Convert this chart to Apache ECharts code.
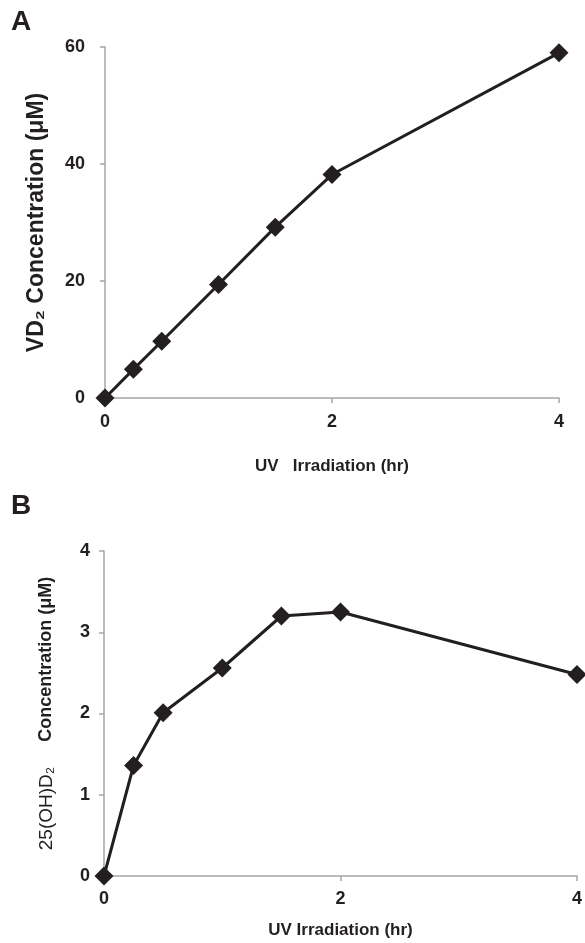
<!DOCTYPE html>
<html>
<head>
<meta charset="utf-8">
<script src="https://cdn.jsdelivr.net/npm/echarts@6/dist/echarts.min.js"></script>
<style>
  html, body { margin: 0; padding: 0; background: #fff; }
  #chart { width: 585px; height: 943px; }
</style>
</head>
<body>
<div id="chart"></div>
<script>
// UV irradiation time (hr)
var hours = [0, 0.25, 0.5, 1, 1.5, 2, 4];
// panel A: VD2 concentration (uM)
var vd2 = [0, 4.9, 9.7, 19.4, 29.2, 38.2, 59.0];
// panel B: 25(OH)D2 concentration (uM)
var ohd2 = [0, 1.36, 2.01, 2.56, 3.20, 3.25, 2.48];

var ink = '#231f20';
var axisGray = '#a6a6a6';
var font = '"Liberation Sans", Arial, sans-serif';

function pairs(xs, ys) {
  return xs.map(function (x, i) { return [x, ys[i]]; });
}

function xAxisOpt(idx, name, gap, labelMargin) {
  return {
    type: 'value', gridIndex: idx, min: 0, max: 4, interval: 2,
    name: name, nameLocation: 'middle', nameGap: gap,
    nameTextStyle: { fontFamily: font, fontWeight: 'bold', fontSize: 17, color: ink },
    axisLine: { show: true, lineStyle: { color: axisGray, width: 1.5 } },
    axisTick: { show: true, inside: false, length: 5, lineStyle: { color: axisGray, width: 1.5 } },
    axisLabel: { margin: labelMargin, fontFamily: font, fontWeight: 'bold', fontSize: 18, color: ink },
    splitLine: { show: false }
  };
}

function yAxisOpt(idx, max, interval, name, gap, labelMargin, nameSize, rich) {
  return {
    type: 'value', gridIndex: idx, min: 0, max: max, interval: interval,
    name: name, nameLocation: 'middle', nameGap: gap, nameRotate: 90,
    nameTextStyle: { fontFamily: font, fontWeight: 'bold', fontSize: nameSize, color: ink, rich: rich || {} },
    axisLine: { show: true, lineStyle: { color: axisGray, width: 1.5 } },
    axisTick: { show: true, inside: false, length: 5, lineStyle: { color: axisGray, width: 1.5 } },
    axisLabel: { margin: labelMargin, fontFamily: font, fontWeight: 'bold', fontSize: 18, color: ink },
    splitLine: { show: false }
  };
}

function lineSeries(idx, data) {
  return {
    type: 'line', xAxisIndex: idx, yAxisIndex: idx,
    data: data, clip: false,
    symbol: 'diamond', symbolSize: 19,
    itemStyle: { color: ink },
    lineStyle: { color: ink, width: 3 },
    z: 5
  };
}

var chart = echarts.init(document.getElementById('chart'));
chart.setOption({
  animation: false,
  backgroundColor: '#fff',
  graphic: [
    { type: 'text', left: 11, top: 8, style: { text: 'A', fontFamily: font, fontWeight: 'bold', fontSize: 28, fill: ink } },
    { type: 'text', left: 11, top: 492, style: { text: 'B', fontFamily: font, fontWeight: 'bold', fontSize: 28, fill: ink } }
  ],
  grid: [
    { left: 105, top: 47, width: 454, height: 351 },
    { left: 104, top: 551, width: 474, height: 325 }
  ],
  xAxis: [
    xAxisOpt(0, 'UV   Irradiation (hr)', 60, 15),
    xAxisOpt(1, 'UV Irradiation (hr)', 46, 14)
  ],
  yAxis: [
    yAxisOpt(0, 60, 20, 'VD₂ Concentration (μM)', 57, 20, 23),
    yAxisOpt(1, 4, 1, '{n|25(OH)D₂}     Concentration (μM)', 48, 14, 18,
      { n: { fontFamily: font, fontWeight: 'normal', fontSize: 19, color: ink } })
  ],
  series: [
    lineSeries(0, pairs(hours, vd2)),
    lineSeries(1, pairs(hours, ohd2))
  ]
});
</script>
</body>
</html>
